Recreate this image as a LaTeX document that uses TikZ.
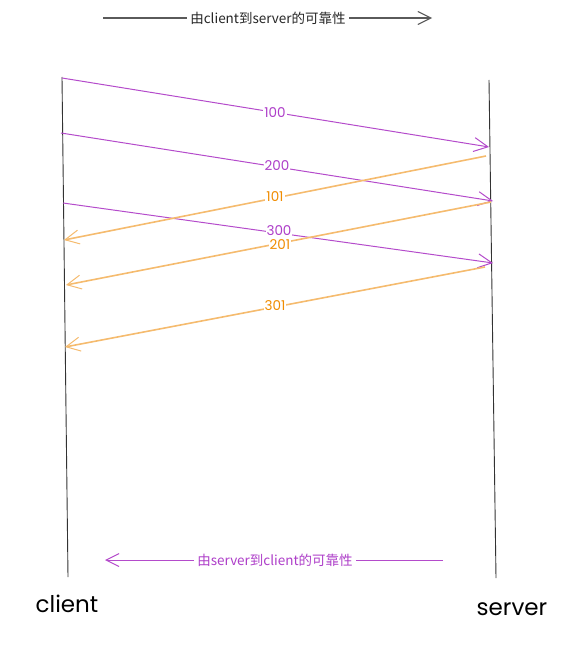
\documentclass[tikz,border=0pt]{standalone}
\usepackage{fontspec}
\setmainfont{Poppins}
\newfontfamily\cjk{Noto Sans CJK SC}
\usetikzlibrary{arrows.meta}
\definecolor{pur}{HTML}{B44BCB}
\definecolor{purtxt}{HTML}{AE3EC9}
\definecolor{orl}{HTML}{F5BB6E}
\definecolor{ortxt}{HTML}{F08C00}
\definecolor{gr}{HTML}{5A5A5A}
\tikzset{
  life/.style={draw=black!80, line width=0.9pt},
  msg/.style={line width=1pt, -{Straight Barb[length=14pt,width=14pt,line width=1pt]}},
  req/.style={msg, draw=pur},
  ack/.style={msg, draw=orl, line width=1.6pt},
  lab/.style={fill=white, inner sep=1pt, font=\fontsize{13.5}{15}\selectfont},
  rlab/.style={lab, text=purtxt},
  alab/.style={lab, text=ortxt},
  hdr/.style={fill=white, inner sep=3pt, font=\cjk\fontsize{13.5}{15}\selectfont},
  actor/.style={font=\fontsize{23}{26}\selectfont, text=black}
}
\begin{document}
\begin{tikzpicture}[x=1pt,y=-1pt]
\useasboundingbox (0,0) rectangle (577,660);
% lifelines
\coordinate (c1) at (62,77);
\coordinate (c2) at (68,577);
\coordinate (s1) at (489,80);
\coordinate (s2) at (496,578);
\draw[life] (c1) -- (c2);
\draw[life] (s1) -- (s2);
% endpoints
\coordinate (a100) at (62,78);   \coordinate (b100) at (489,147);
\coordinate (a200) at (61,133);  \coordinate (b200) at (493,201);
\coordinate (a300) at (63,203);  \coordinate (b300) at (493,263);
\coordinate (a101) at (486,156); \coordinate (b101) at (64,240);
\coordinate (a201) at (491,202); \coordinate (b201) at (66,285);
\coordinate (a301) at (485,267); \coordinate (b301) at (65,347);
\draw[req] (a100) -- (b100);
\draw[req] (a200) -- (b200);
\draw[req] (a300) -- (b300);
\draw[ack] (a101) -- (b101);
\draw[ack] (a201) -- (b201);
\draw[ack] (a301) -- (b301);
\node[rlab] (l100) at (275,113) {100};
\node[rlab] (l200) at (277,166) {200};
\node[alab] (l101) at (275,197) {101};
\node[rlab] (l300) at (279,231) {300};
\node[alab] (l201) at (280,245) {201};
\node[alab] (l301) at (275,306) {301};
% top and bottom direction arrows
\coordinate (t1) at (103,18);
\coordinate (t2) at (432,18);
\draw[gr, line width=1.1pt, -{Straight Barb[length=13pt,width=13pt,line width=1.1pt]}] (t1) -- (t2);
\node[hdr, text=black!85] (top) at (268,18) {由client到server的可靠性};
\coordinate (u1) at (443,560);
\coordinate (u2) at (105,560);
\draw[pur, line width=1pt, -{Straight Barb[length=13pt,width=13pt,line width=1pt]}] (u1) -- (u2);
\node[hdr, text=purtxt] (bot) at (275,560) {由server到client的可靠性};
% actors
\node[actor] (client) at (67,604) {client};
\node[actor] (server) at (512,609) {server};
\end{tikzpicture}
\end{document}
